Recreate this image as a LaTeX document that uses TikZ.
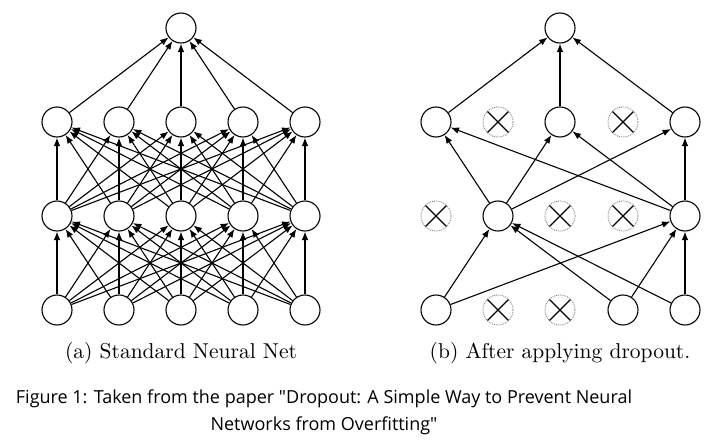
\documentclass[tikz,border=0pt]{standalone}
\usepackage{fontspec}
\usepackage{tikz}
\usetikzlibrary{arrows.meta}
\newfontfamily\capfont{Open Sans}
\newfontfamily\subfont{lmroman10-regular}[Extension=.otf]

\tikzset{
  neuron/.style={circle,draw,line width=1.1pt,minimum size=30pt,inner sep=0pt},
  dropped/.style={circle,draw=gray,densely dotted,line width=0.9pt,minimum size=30pt,inner sep=0pt,
    path picture={\draw[solid,black,line width=1.2pt]
      (path picture bounding box.north west) -- (path picture bounding box.south east)
      (path picture bounding box.north east) -- (path picture bounding box.south west);}},
  conn/.style={->,line width=1.1pt},
  subcap/.style={anchor=base,font=\subfont\fontsize{21.5}{26}\selectfont}
}

\begin{document}
\begin{tikzpicture}[x=1pt,y=-1pt,>={Latex[length=8.5pt,width=6.5pt]}]
  \useasboundingbox (0,0) rectangle (720,439);
  % (a) standard net
  \foreach \i in {1,...,5} {
    \node[neuron] (a_1\i) at ({57+62*(\i-1)},310) {};
    \node[neuron] (a_2\i) at ({57+62*(\i-1)},216) {};
    \node[neuron] (a_3\i) at ({57+62*(\i-1)},122) {};
  }
  \node[neuron] (a_4) at (181,28) {};
  \foreach \i in {1,...,5} {
    \foreach \j in {1,...,5} {
      \draw[conn] (a_1\i) -- (a_2\j);
      \draw[conn] (a_2\i) -- (a_3\j);
    }
    \draw[conn] (a_3\i) -- (a_4);
  }

  % (b) thinned net
  \node[neuron]  (b_11) at (436,310) {};
  \node[dropped] (b_12) at (498,310) {};
  \node[dropped] (b_13) at (560,310) {};
  \node[neuron]  (b_14) at (623,310) {};
  \node[neuron]  (b_15) at (685,310) {};
  \node[dropped] (b_21) at (436,216) {};
  \node[neuron]  (b_22) at (498,216) {};
  \node[dropped] (b_23) at (560,216) {};
  \node[dropped] (b_24) at (623,216) {};
  \node[neuron]  (b_25) at (685,216) {};
  \node[neuron]  (b_31) at (436,122) {};
  \node[dropped] (b_32) at (498,122) {};
  \node[neuron]  (b_33) at (560,122) {};
  \node[dropped] (b_34) at (623,122) {};
  \node[neuron]  (b_35) at (685,122) {};
  \node[neuron]  (b_4)  at (560,28) {};
  \path[conn] (b_11) edge (b_22)
                     edge (b_25)
              (b_14) edge (b_22)
                     edge (b_25)
              (b_15) edge (b_22)
                     edge (b_25)
              (b_22) edge (b_31)
                     edge (b_33)
                     edge (b_35)
              (b_25) edge (b_31)
                     edge (b_33)
                     edge (b_35)
              (b_31) edge (b_4)
              (b_33) edge (b_4)
              (b_35) edge (b_4);

  % captions
  \node[subcap] (cap_a) at (181,358) {(a) Standard Neural Net};
  \node[subcap] (cap_b) at (560,358) {(b) After applying dropout.};
  \node[align=center,font=\capfont\fontsize{18}{27}\selectfont] (cap_fig) at (324,412)
    {Figure 1: Taken from the paper "Dropout: A Simple Way to Prevent Neural\\ Networks from Overfitting"};
\end{tikzpicture}
\end{document}
